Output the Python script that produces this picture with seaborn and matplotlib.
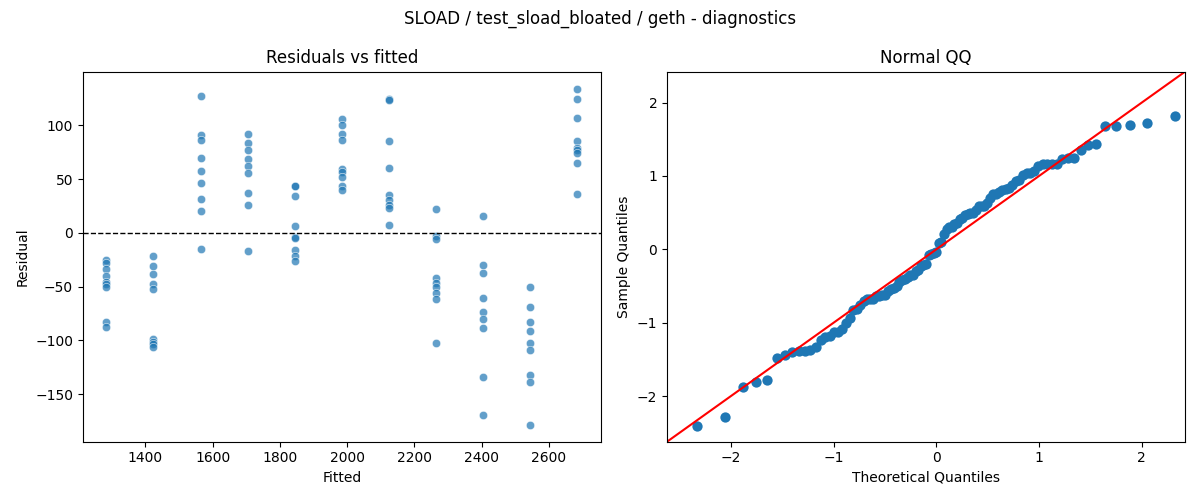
import numpy as np
import pandas as pd
import seaborn as sns
import matplotlib
matplotlib.use("Agg")
import matplotlib.pyplot as plt
from statistics import NormalDist

# fitted levels (one per group) and residuals
fitted_levels = [1284, 1424, 1564, 1704, 1844, 1984, 2124, 2264, 2404, 2544, 2684]

res_1284 = [-25.6, -28.1, -33.3, -40.4, -45.7, -47.5, -50.3, -83.3, -88.0]
res_1424 = [-21.9, -31.2, -38.6, -47.5, -51.9, -98.5, -101.2, -103.7, -106.5]
res_1564 = [127.2, 91.4, 86.1, 69.4, 57.7, 46.3, 31.5, 20.4, -14.8]
res_1704 = [91.7, 83.6, 76.9, 68.5, 62.0, 55.9, 37.0, 26.2, -16.7]
res_1844 = [43.8, 43.6, 34.6, 6.5, -4.0, -4.9, -16.4, -21.3, -25.9]
res_1984 = [105.6, 100.0, 91.7, 86.4, 59.3, 56.2, 51.5, 43.8, 39.8]
res_2124 = [124.1, 123.9, 85.5, 60.5, 35.5, 30.6, 25.9, 22.8, 7.7]
res_2264 = [22.2, -2.5, -5.6, -41.7, -46.3, -50.3, -55.9, -61.1, -102.8]
res_2404 = [15.7, -29.6, -37.3, -60.2, -74.1, -80.6, -88.9, -134.0, -169.4]
res_2544 = [-50.0, -69.4, -83.3, -91.7, -102.8, -109.3, -132.1, -138.9, -178.7]
res_2684 = [134.3, 125.0, 106.5, 85.5, 78.7, 76.9, 74.7, 64.8, 36.1]

groups = [res_1284, res_1424, res_1564, res_1704, res_1844, res_1984,
          res_2124, res_2264, res_2404, res_2544, res_2684]

rows = []
for f, g in zip(fitted_levels, groups):
    for r in g:
        rows.append({"fitted": f, "resid": r})
df = pd.DataFrame(rows)

# normal QQ of standardized residuals
resid = np.sort(df["resid"].to_numpy())
n = len(resid)
std_resid = (resid - resid.mean()) / resid.std()
nd = NormalDist()
theo = np.array([nd.inv_cdf(i / (n + 1)) for i in range(1, n + 1)])
qq = pd.DataFrame({"theoretical": theo, "sample": std_resid})

fig, (ax1, ax2) = plt.subplots(1, 2, figsize=(12, 5), dpi=100)

sns.scatterplot(data=df, x="fitted", y="resid", alpha=0.7, ax=ax1)
ax1.axhline(0, color="black", linestyle="--", linewidth=1)
ax1.set_title("Residuals vs fitted")
ax1.set_xlabel("Fitted")
ax1.set_ylabel("Residual")

sns.scatterplot(data=qq, x="theoretical", y="sample", s=55, linewidth=0,
                color="#1f77b4", ax=ax2)
ax2.axline((0, 0), slope=1, color="red", linewidth=1.5)
ax2.set_xlim(-2.62, 2.42)
ax2.set_ylim(-2.62, 2.42)
ax2.set_title("Normal QQ")
ax2.set_xlabel("Theoretical Quantiles")
ax2.set_ylabel("Sample Quantiles")

fig.suptitle("SLOAD / test_sload_bloated / geth - diagnostics")
fig.subplots_adjust(left=0.069, right=0.9875, bottom=0.1166, top=0.8566, wspace=0.128)
fig.savefig("out.png")
